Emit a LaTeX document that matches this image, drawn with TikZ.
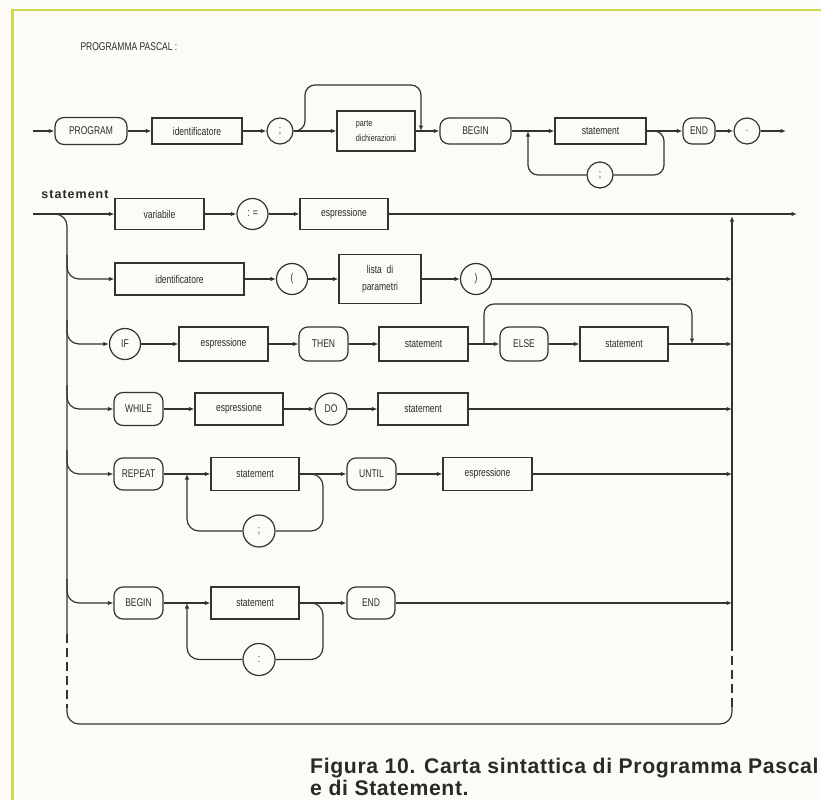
\documentclass[tikz,border=0pt]{standalone}
\usepackage{fontspec}
\usetikzlibrary{arrows.meta}
\newfontfamily\plotfont[FakeStretch=0.76]{Liberation Sans}
\newfontfamily\capfont[LetterSpace=3]{Liberation Sans Bold}
\newfontfamily\headfont[LetterSpace=8]{Liberation Sans Bold}
\definecolor{ink}{HTML}{333333}
\definecolor{txt}{HTML}{2C2C2C}
\definecolor{paper}{HTML}{FCFBF6}
\definecolor{frame}{RGB}{205,218,80}
\definecolor{capcol}{HTML}{2A2A2A}
\begin{document}
\begin{tikzpicture}[x=1pt,y=-1pt,
  line/.style={draw=ink, line width=1.2pt},
  arr/.style={line, -{Latex[length=5.5pt,width=4.5pt]}},
  dashrail/.style={line, dash pattern=on 9pt off 5pt},
  lbl/.style={font={\plotfont\fontsize{11.2}{12}\selectfont}, text=txt},
  term/.style={lbl, draw=ink, line width=1.2pt, rounded corners=9pt, inner sep=0pt},
  nterm/.style={lbl, draw=ink, line width=1.2pt, inner sep=0pt},
  lit/.style={lbl, circle, draw=ink, line width=1.2pt, inner sep=0pt}]

% page and margin rules
\fill[paper] (0,0) rectangle (821,800);
\useasboundingbox (0,0) rectangle (821,800);
\draw[frame, line width=2pt] (12,10) -- (821,10);
\draw[frame, line width=3pt] (12,9) -- (12,800);

% ---------------- PROGRAMMA PASCAL ----------------
\node[lbl, anchor=west] (title) at (77,47) {PROGRAMMA PASCAL :};

\coordinate (p0) at (33,131);
\node[term, minimum width=72pt, minimum height=27pt] (prog) at (91,131) {PROGRAM};
\node[nterm, minimum width=90pt, minimum height=26pt] (pid) at (197,131) {identificatore};
\node[lit, minimum size=26pt] (psemi) at (280,131) {;};
\node[nterm, minimum width=78pt, minimum height=40pt, align=left,
      font={\plotfont\fontsize{9.5}{15}\selectfont}] (parte) at (376,131) {parte\\dichierazioni};
\node[term, minimum width=71pt, minimum height=26pt] (pbegin) at (475.5,131) {BEGIN};
\node[nterm, minimum width=91pt, minimum height=26pt] (pstmt) at (600.5,131) {statement};
\node[lit, minimum size=26pt] (ploop) at (600,175) {;};
\node[term, minimum width=32pt, minimum height=26pt] (pend) at (699,131) {END};
\node[lit, minimum size=26pt] (pdot) at (747,131) {.};
\coordinate (p9) at (786,131);

\draw[arr] (p0) -- (prog);
\draw[arr] (prog) -- (pid);
\draw[arr] (pid) -- (psemi);
\draw[arr] (psemi) -- (parte);
\coordinate (pb1) at (305,131);
\coordinate (pb2) at (421,131);
\draw[arr, rounded corners=10pt] (psemi.east) -- (pb1) -- (305,85) -- (421,85) -- (pb2);
\draw[arr] (parte) -- (pbegin);
\draw[arr] (pbegin) -- (pstmt);
\draw[arr] (pstmt) -- (pend);
\draw[line, rounded corners=10pt] (pstmt.east) -- (664,131) -- (664,175) -- (ploop);
\coordinate (pl1) at (528,131);
\draw[arr, rounded corners=10pt] (ploop) -- (528,175) -- (pl1);
\draw[arr] (pend) -- (pdot);
\draw[arr] (pdot) -- (p9);

% ---------------- statement ----------------
\node[font={\headfont\fontsize{12.5}{14}\selectfont}, text=capcol] (stlabel) at (75,194) {statement};

\coordinate (s0) at (33,214);
\coordinate (s9) at (797,214);
\coordinate (ltap) at (50,214);
\coordinate (rtop) at (732,216);

% row 1: variabile := espressione
\node[nterm, minimum width=89pt, minimum height=31pt] (var) at (159.5,214) {variabile};
\node[lit, minimum size=31pt] (assign) at (252.5,214) {: =};
\node[nterm, minimum width=88pt, minimum height=31pt] (espr1) at (344,214) {espressione};
\draw[arr] (s0) -- (var);
\draw[arr] (var) -- (assign);
\draw[arr] (assign) -- (espr1);
\draw[arr] (espr1) -- (s9);

% rails on the left, on the right and along the bottom
\draw[line, rounded corners=12pt] (ltap) -- (67,214) -- (67,634);
\draw[dashrail] (67,634) -- (67,708);
\draw[line, rounded corners=12pt] (67,704) -- (67,724) -- (732,724) -- (732,704);
\draw[dashrail] (732,642) -- (732,708);
\draw[arr] (732,642) -- (rtop);

% row 2: identificatore ( lista di parametri )
\node[nterm, minimum width=129pt, minimum height=32pt] (id2) at (179.5,279) {identificatore};
\node[lit, minimum size=31pt] (lpar) at (292,279) {(};
\node[nterm, minimum width=82pt, minimum height=49pt, align=center,
      font={\plotfont\fontsize{11.2}{17}\selectfont}] (lista) at (380,279) {lista~~di\\parametri};
\node[lit, minimum size=31pt] (rpar) at (476,279) {)};
\coordinate (r2) at (732,279);
\draw[arr, rounded corners=12pt] (67,255) -- (67,279) -- (id2);
\draw[arr] (id2) -- (lpar);
\draw[arr] (lpar) -- (lista);
\draw[arr] (lista) -- (rpar);
\draw[arr] (rpar) -- (r2);

% row 3: IF espressione THEN statement [ELSE statement]
\node[lit, minimum size=31pt] (if) at (125,344) {IF};
\node[nterm, minimum width=89pt, minimum height=34pt] (espr3) at (223.5,344) {espressione};
\node[term, minimum width=49pt, minimum height=34pt] (then) at (323.5,344) {THEN};
\node[nterm, minimum width=89pt, minimum height=34pt] (stmt3) at (423.5,344) {statement};
\node[term, minimum width=48pt, minimum height=34pt] (else) at (524,344) {ELSE};
\node[nterm, minimum width=88pt, minimum height=34pt] (stmt3b) at (624,344) {statement};
\coordinate (e1) at (484,344);
\coordinate (e2) at (692,344);
\coordinate (r3) at (732,344);
\draw[arr, rounded corners=12pt] (67,320) -- (67,344) -- (if);
\draw[arr] (if) -- (espr3);
\draw[arr] (espr3) -- (then);
\draw[arr] (then) -- (stmt3);
\draw[arr] (stmt3) -- (else);
\draw[arr, rounded corners=10pt] (e1) -- (484,304) -- (692,304) -- (e2);
\draw[arr] (else) -- (stmt3b);
\draw[arr] (stmt3b) -- (r3);

% row 4: WHILE espressione DO statement
\node[term, minimum width=49pt, minimum height=33pt] (while) at (138.5,409) {WHILE};
\node[nterm, minimum width=88pt, minimum height=32pt] (espr4) at (239,409) {espressione};
\node[lit, minimum size=32pt] (do) at (331,409) {DO};
\node[nterm, minimum width=90pt, minimum height=32pt] (stmt4) at (423,409) {statement};
\coordinate (r4) at (732,409);
\draw[arr, rounded corners=12pt] (67,385) -- (67,409) -- (while);
\draw[arr] (while) -- (espr4);
\draw[arr] (espr4) -- (do);
\draw[arr] (do) -- (stmt4);
\draw[arr] (stmt4) -- (r4);

% row 5: REPEAT statement {; statement} UNTIL espressione
\node[term, minimum width=49pt, minimum height=32pt] (repeat) at (138.5,474) {REPEAT};
\node[nterm, minimum width=88pt, minimum height=33pt] (stmt5) at (255,474) {statement};
\node[lit, minimum size=32pt] (semi5) at (259,531) {;};
\node[term, minimum width=49pt, minimum height=32pt] (until) at (371.5,474) {UNTIL};
\node[nterm, minimum width=89pt, minimum height=33pt] (espr5) at (487.5,474) {espressione};
\coordinate (l5) at (187,474);
\coordinate (r5) at (732,474);
\draw[arr, rounded corners=12pt] (67,450) -- (67,474) -- (repeat);
\draw[arr] (repeat) -- (stmt5);
\draw[arr] (stmt5) -- (until);
\draw[line, rounded corners=12pt] (stmt5.east) -- (323,474) -- (323,531) -- (semi5);
\draw[arr, rounded corners=12pt] (semi5) -- (187,531) -- (l5);
\draw[arr] (until) -- (espr5);
\draw[arr] (espr5) -- (r5);

% row 6: BEGIN statement {: statement} END
\node[term, minimum width=49pt, minimum height=32pt] (begin6) at (138.5,603) {BEGIN};
\node[nterm, minimum width=88pt, minimum height=32pt] (stmt6) at (255,603) {statement};
\node[lit, minimum size=32pt] (semi6) at (259,659.5) {:};
\node[term, minimum width=48pt, minimum height=32pt] (end6) at (371,603) {END};
\coordinate (l6) at (187,603);
\coordinate (r6) at (732,603);
\draw[arr, rounded corners=12pt] (67,579) -- (67,603) -- (begin6);
\draw[arr] (begin6) -- (stmt6);
\draw[arr] (stmt6) -- (end6);
\draw[line, rounded corners=12pt] (stmt6.east) -- (323,603) -- (323,659.5) -- (semi6);
\draw[arr, rounded corners=12pt] (semi6) -- (187,659.5) -- (l6);
\draw[arr] (end6) -- (r6);

% caption
\node[anchor=north west, inner sep=0pt, align=left, text=capcol,
      font={\capfont\fontsize{21.2}{22}\selectfont}] (caption) at (310,758)
  {Figura 10. Carta sintattica di Programma Pascal\\e di Statement.};
\end{tikzpicture}
\end{document}
